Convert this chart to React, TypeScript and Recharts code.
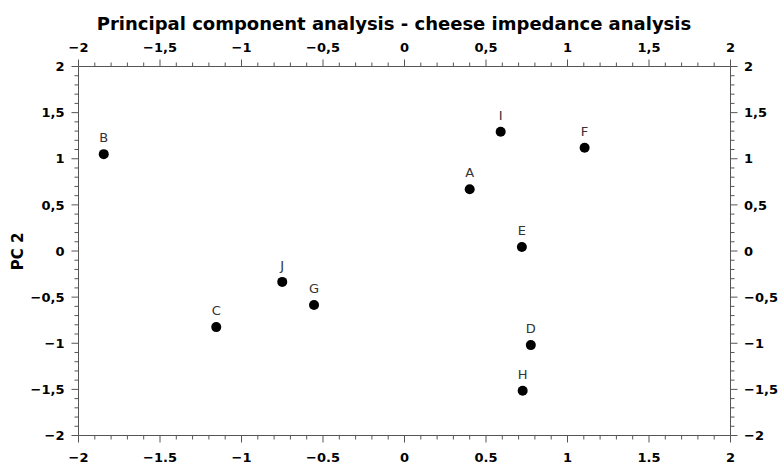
import { ScatterChart, Scatter, XAxis, YAxis } from "recharts";

const CHEESES = ["A", "B", "C", "D", "E", "F", "G", "H", "I", "J"];
const PC1 = [0.40, -1.845, -1.155, 0.775, 0.72, 1.105, -0.555, 0.725, 0.59, -0.75];
const PC2 = [0.669, 1.05, -0.825, -1.02, 0.043, 1.12, -0.585, -1.515, 1.293, -0.335];

const MAJOR_TICKS = [-2, -1.5, -1, -0.5, 0, 0.5, 1, 1.5, 2];
// minor ticks every 0.1 between the labelled ones
const ALL_TICKS: number[] = [];
for (let i = -20; i <= 20; i++) ALL_TICKS.push(i / 10);

const points = CHEESES.map((name, i) => ({ name, pc1: PC1[i], pc2: PC2[i] }));

const FONT = "'DejaVu Sans', sans-serif";
const AXIS_COLOR = "#555";

function fmt(v: number, sep: string) {
  const r = Math.round(v * 10) / 10;
  return (r < 0 ? "\u2212" : "") + String(Math.abs(r)).replace(".", sep);
}

function isMajor(v: number) {
  return MAJOR_TICKS.some((m) => Math.abs(m - v) < 1e-6);
}

type Side = "top" | "bottom" | "left" | "right";

function makeTick(side: Side, sep: string) {
  return (props: any) => {
    const { x, y, payload } = props;
    const v = payload.value as number;
    const major = isMajor(v);
    const len = major ? 7 : 4;
    let line;
    let label = null;
    const textProps = { fontSize: 13, fontWeight: "bold" as const, fontFamily: FONT, fill: "#000" };
    if (side === "top") {
      line = <line x1={x} y1={y} x2={x} y2={y - len} stroke={AXIS_COLOR} />;
      if (major) label = <text x={x} y={y - 14.5} textAnchor="middle" {...textProps}>{fmt(v, sep)}</text>;
    } else if (side === "bottom") {
      line = <line x1={x} y1={y} x2={x} y2={y + len} stroke={AXIS_COLOR} />;
      if (major) label = <text x={x} y={y + 26} textAnchor="middle" {...textProps}>{fmt(v, sep)}</text>;
    } else if (side === "left") {
      line = <line x1={x} y1={y} x2={x - len} y2={y} stroke={AXIS_COLOR} />;
      if (major) label = <text x={x - 14} y={y + 4.7} textAnchor="end" {...textProps}>{fmt(v, sep)}</text>;
    } else {
      line = <line x1={x} y1={y} x2={x + len} y2={y} stroke={AXIS_COLOR} />;
      if (major) label = <text x={x + 13.5} y={y + 4.7} textAnchor="start" {...textProps}>{fmt(v, sep)}</text>;
    }
    return (
      <g>
        {line}
        {label}
      </g>
    );
  };
}

function CheesePoint(props: any) {
  const { cx, cy, payload } = props;
  return (
    <g>
      <circle cx={cx} cy={cy} r={5} fill="#000" />
      <text x={cx} y={cy - 12} textAnchor="middle" fontSize={13} fontFamily={FONT} fill="#333">
        {payload.name}
      </text>
    </g>
  );
}

const axisCommon = {
  type: "number" as const,
  domain: [-2, 2],
  ticks: ALL_TICKS,
  interval: 0 as const,
  allowDataOverflow: true,
  tickLine: false,
  tickSize: 0,
  tickMargin: 0,
  axisLine: { stroke: AXIS_COLOR },
};

export default function App() {
  return (
    <div style={{ position: "absolute", left: 0, top: 0, width: 780, height: 463, background: "#fff" }}>
      <ScatterChart width={780} height={463} margin={{ top: 0.5, right: 0.5, bottom: 0, left: 0.5 }}>
        <XAxis xAxisId="top" orientation="top" dataKey="pc1" height={66} tick={makeTick("top", ",")} {...axisCommon} />
        <XAxis xAxisId="bottom" orientation="bottom" dataKey="pc1" height={27.5} tick={makeTick("bottom", ".")} {...axisCommon} />
        <YAxis yAxisId="left" orientation="left" dataKey="pc2" width={78} tick={makeTick("left", ",")} {...axisCommon} />
        <YAxis yAxisId="right" orientation="right" dataKey="pc2" width={49} tick={makeTick("right", ",")} {...axisCommon} />
        <Scatter
          data={points}
          xAxisId="bottom"
          yAxisId="left"
          shape={CheesePoint}
          isAnimationActive={false}
        />
      </ScatterChart>
      <svg width={780} height={463} style={{ position: "absolute", left: 0, top: 0, pointerEvents: "none" }}>
        <text x={394} y={29.5} textAnchor="middle" fontSize={18} fontWeight="bold" fontFamily={FONT} fill="#000">
          Principal component analysis - cheese impedance analysis
        </text>
        <text
          x={0}
          y={0}
          transform="translate(23 251.5) rotate(-90)"
          textAnchor="middle"
          fontSize={15}
          fontWeight="bold"
          fontFamily={FONT}
          fill="#000"
        >
          PC 2
        </text>
      </svg>
    </div>
  );
}
